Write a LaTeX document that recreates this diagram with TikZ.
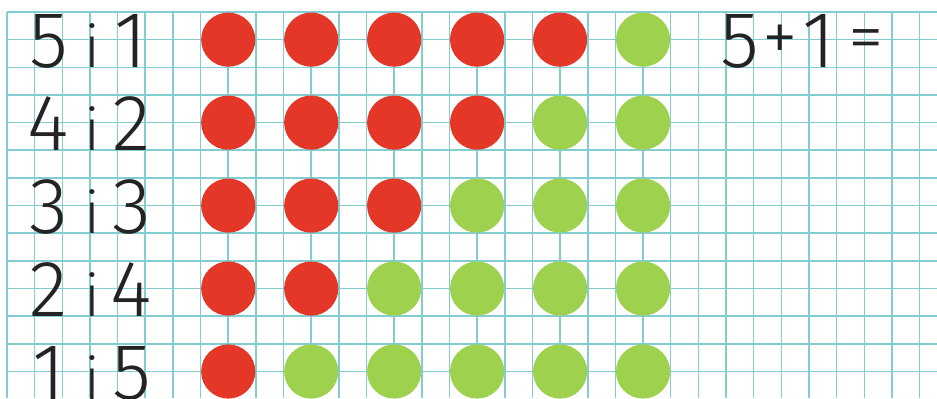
\documentclass[tikz,border=0pt]{standalone}
\usepackage{fontspec}
\usepackage{tikz}
\usetikzlibrary{positioning}
\newfontfamily\handfont{Fira Sans Light}
\definecolor{gridcyan}{RGB}{130,205,210}
\definecolor{dotred}{RGB}{228,55,40}
\definecolor{dotgreen}{RGB}{158,210,78}
\definecolor{ink}{RGB}{35,35,35}

\begin{document}
\begin{tikzpicture}[
    counter/.style={circle, inner sep=0pt, minimum size=1.96cm},
    numeral/.style={anchor=base, inner sep=0pt, text=ink, font=\handfont\fontsize{82}{82}\selectfont},
    letter/.style={anchor=base, inner sep=0pt, text=ink, font=\handfont\fontsize{60}{60}\selectfont},
    sign/.style={inner sep=0pt, text=ink, font=\handfont\fontsize{74}{74}\selectfont}]
    \useasboundingbox (-0.253,0.434) rectangle (33.63,-13.96);
    \fill[white] (-0.253,0.434) rectangle (33.63,-13.96);

    % Squared paper
    \draw[gridcyan, line width=1.6pt] (0,-13.96) grid (33.63,0);

    % Rows of counters
    \foreach \r/\red in {0/5,1/4,2/3,3/2,4/1} {
      \foreach \c in {1,...,6} {
        \ifnum\c>\red \def\dotcol{dotgreen}\else \def\dotcol{dotred}\fi
        \node[counter, fill=\dotcol] (d\r\c) at ({5+3*\c},{-1-3*\r}) {};
      }
    }

    % Number pairs
    \foreach \r/\a/\b in {0/5/1,1/4/2,2/3/3,3/2/4,4/1/5} {
      \node[numeral] (a\r) at (1.5,{-2-3*\r}) {\a};
      \node[letter] (i\r) at (3.1,{-2-3*\r}) {i};
      \node[numeral] (b\r) at (4.5,{-2-3*\r}) {\b};
    }

    % Sum
    \node[numeral] (s5) at (26.5,-2) {5};
    \node[sign] (plus) at (27.96,-1.12) {+};
    \node[numeral] (s1) at (29.35,-2) {1};
    \node[sign] (eq) at (31.07,-1.22) {=};
\end{tikzpicture}
\end{document}
